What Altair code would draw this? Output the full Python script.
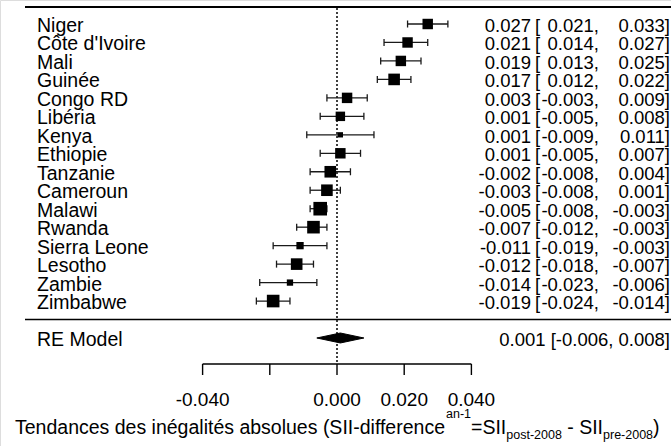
import altair as alt
import pandas as pd

# ---------------- data ----------------
studies = ["Niger", "Côte d'Ivoire", "Mali", "Guinée", "Congo RD", "Libéria", "Kenya",
           "Ethiopie", "Tanzanie", "Cameroun", "Malawi", "Rwanda", "Sierra Leone",
           "Lesotho", "Zambie", "Zimbabwe"]
estimates = [0.027, 0.021, 0.019, 0.017, 0.003, 0.001, 0.001, 0.001, -0.002, -0.003,
             -0.005, -0.007, -0.011, -0.012, -0.014, -0.019]
ci_lower = [0.021, 0.014, 0.013, 0.012, -0.003, -0.005, -0.009, -0.005, -0.008, -0.008,
            -0.008, -0.012, -0.019, -0.018, -0.023, -0.024]
ci_upper = [0.033, 0.027, 0.025, 0.022, 0.009, 0.008, 0.011, 0.007, 0.004, 0.001,
            -0.003, -0.003, -0.003, -0.007, -0.006, -0.014]
weights = [6.3, 6.3, 6.3, 7.0, 6.3, 5.7, 3.2, 6.3, 7.0, 7.0, 8.2, 7.6, 4.4, 7.0, 3.8, 7.6]

re_label = "RE Model"
re_est, re_lo, re_hi = 0.001, -0.006, 0.008

tick_values = [-0.04, -0.02, 0.0, 0.02, 0.04]
tick_labels = ["-0.040", "", "0.000", "0.020", "0.040"]

title_main = "Tendances des inégalités absolues (SII-difference"
title_tail = [
    ("an-1", "sup"),
    ("=SII", "main"),
    ("post-2008", "sub"),
    (" - SII", "main"),
    ("pre-2008", "sub"),
    (")", "main"),
]

# ---------------- layout helpers ----------------
W, H = 671, 446
FONT = "Liberation Sans"
px_per_unit = 3360.0
x0_px = 337.0
row0_px, row_h = 24.0, 18.47
xscale = alt.Scale(domain=[-x0_px / px_per_unit, (W - x0_px) / px_per_unit], nice=False, zero=False)
yscale = alt.Scale(domain=[-row0_px / row_h, (H - row0_px) / row_h], reverse=True, nice=False, zero=False)
n = len(studies)
re_row = n + 1
sep_row = n
INK = "#000"

def X(f, **kw):
    return alt.X(f, type="quantitative", scale=xscale, axis=None, **kw)

def Y(f, **kw):
    return alt.Y(f, type="quantitative", scale=yscale, axis=None, **kw)

def fmt(v):
    return f"{v:.3f}"

df = pd.DataFrame({
    "study": studies,
    "row": list(range(n)),
    "est": estimates,
    "lo": ci_lower,
    "hi": ci_upper,
    "w": weights,
})
df["est_txt"] = [fmt(v) for v in df["est"]]
df["lo_txt"] = [fmt(v) + "," for v in df["lo"]]
df["hi_txt"] = [fmt(v) + "]" for v in df["hi"]]
df["br"] = "["

base = alt.Chart(df)

# top & separator lines
top_line = alt.Chart(pd.DataFrame({"a": [0]})).mark_rule(color=INK, strokeWidth=2).encode(
    x=alt.value(25), x2=alt.value(W), y=alt.value(7))
sep_line = alt.Chart(pd.DataFrame({"row": [sep_row]})).mark_rule(color=INK, strokeWidth=1.4).encode(
    x=alt.value(25), x2=alt.value(W), y=Y("row"))

# reference dotted line at 0
zero_line = alt.Chart(pd.DataFrame({"v": [0.0]})).mark_rule(
    color=INK, strokeWidth=1.5, strokeDash=[2, 2]).encode(
    x=X("v"), y=alt.value(8), y2=alt.value(364))

# CI lines
ci = base.mark_rule(color="#1a1a1a", strokeWidth=1.3).encode(x=X("lo"), x2=alt.X2("hi"), y=Y("row"))
caps = base.transform_fold(["lo", "hi"], as_=["k", "val"]).transform_calculate(
    y1="datum.row - 0.19", y2="datum.row + 0.19").mark_rule(color="#1a1a1a", strokeWidth=1.3).encode(
    x=X("val"), y=Y("y1"), y2=alt.Y2("y2"))

squares = base.mark_square(color="black", opacity=1, filled=True).encode(
    x=X("est"), y=Y("row"),
    size=alt.Size("w:Q", scale=alt.Scale(type="pow", exponent=2, domain=[0, 8.2], range=[0, 185]), legend=None))

# diamond for RE model
hh = 0.27
dia = pd.DataFrame({
    "x": [re_lo, re_est, re_hi],
    "y1": [re_row, re_row - hh, re_row],
    "y2": [re_row, re_row + hh, re_row],
})
diamond = alt.Chart(dia).mark_area(color="black", orient="vertical", opacity=1,
                                   stroke="black", strokeWidth=1).encode(
    x=X("x"), y=Y("y1"), y2=alt.Y2("y2"))

# text columns
txt_kw = dict(font=FONT, color=INK, baseline="alphabetic", dy=8)
labels = base.mark_text(align="left", fontSize=19.5, **txt_kw).encode(
    x=alt.value(37), y=Y("row"), text="study:N")
est_t = base.mark_text(align="right", fontSize=18.5, **txt_kw).encode(
    x=alt.value(531), y=Y("row"), text="est_txt:N")
br_t = base.mark_text(align="left", fontSize=18.5, **txt_kw).encode(
    x=alt.value(535), y=Y("row"), text="br:N")
lo_t = base.mark_text(align="right", fontSize=18.5, **txt_kw).encode(
    x=alt.value(599), y=Y("row"), text="lo_txt:N")
hi_t = base.mark_text(align="right", fontSize=18.5, **txt_kw).encode(
    x=alt.value(670), y=Y("row"), text="hi_txt:N")

re_df = pd.DataFrame({"row": [re_row], "label": [re_label],
                      "txt": [f"{fmt(re_est)} [{fmt(re_lo)}, {fmt(re_hi)}]"]})
re_lab = alt.Chart(re_df).mark_text(align="left", fontSize=19.5, **txt_kw).encode(
    x=alt.value(37), y=Y("row"), text="label:N")
re_txt = alt.Chart(re_df).mark_text(align="right", fontSize=18.5, **txt_kw).encode(
    x=alt.value(670), y=Y("row"), text="txt:N")

# custom x axis
tdf = pd.DataFrame({"v": tick_values, "lab": tick_labels})
axis_line = alt.Chart(pd.DataFrame({"a": [min(tick_values)], "b": [max(tick_values)]})).mark_rule(
    color=INK, strokeWidth=1.4).encode(x=X("a"), x2=alt.X2("b"), y=alt.value(364))
axis_ticks = alt.Chart(tdf).mark_rule(color=INK, strokeWidth=1.4).encode(
    x=X("v"), y=alt.value(364), y2=alt.value(375))
axis_labels = alt.Chart(tdf).mark_text(font=FONT, fontSize=19, color=INK, baseline="alphabetic").encode(
    x=X("v"), y=alt.value(406), text="lab:N")

# axis title: main part right-aligned where the superscript begins, tail laid out after it
cw = {" ": 278, "(": 333, ")": 333, "-": 333, "=": 584, "S": 667, "I": 278,
      "e": 556, "n": 556, "a": 556, "o": 556, "p": 556, "r": 333, "s": 500, "t": 278}
for dgt in "0123456789":
    cw[dgt] = 556
sizes = {"main": 19.5, "sup": 12.5, "sub": 12.5}
base_y = {"main": 434, "sup": 418, "sub": 439}
split_x = 446.0
rows = [{"t": title_main, "xp": split_x - 1, "yp": base_y["main"], "fs": sizes["main"], "al": "right"}]
cursor = split_x
for s, k in title_tail:
    lead = len(s) - len(s.lstrip(" "))
    cursor += lead * cw[" "] / 1000 * sizes[k]
    s2 = s.lstrip(" ")
    rows.append({"t": s2, "xp": cursor, "yp": base_y[k], "fs": sizes[k], "al": "left"})
    cursor += sum(cw.get(ch, 556) for ch in s2) / 1000 * sizes[k]
title_df = pd.DataFrame(rows)
title_main_mk = alt.Chart(title_df).transform_filter("datum.al == 'right'").mark_text(
    font=FONT, color=INK, align="right", baseline="alphabetic").encode(
    x=alt.X("xp:Q", scale=None, axis=None), y=alt.Y("yp:Q", scale=None, axis=None),
    size=alt.Size("fs:Q", scale=None, legend=None), text="t:N")
title_tail_mk = alt.Chart(title_df).transform_filter("datum.al == 'left'").mark_text(
    font=FONT, color=INK, align="left", baseline="alphabetic").encode(
    x=alt.X("xp:Q", scale=None, axis=None), y=alt.Y("yp:Q", scale=None, axis=None),
    size=alt.Size("fs:Q", scale=None, legend=None), text="t:N")

chart = alt.layer(
    top_line, sep_line, zero_line, ci, caps, squares, diamond,
    labels, est_t, br_t, lo_t, hi_t, re_lab, re_txt,
    axis_line, axis_ticks, axis_labels, title_main_mk, title_tail_mk,
).properties(width=W, height=H, padding=0, autosize=alt.AutoSizeParams(type="none")
).configure_view(stroke=None).configure(background="white")

chart.save("out.html", embed_options={"renderer": "svg", "actions": False})
